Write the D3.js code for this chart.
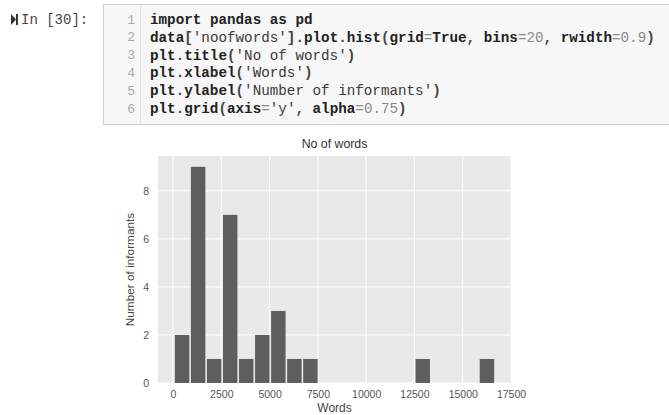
<!DOCTYPE html>
<html>
<head>
<meta charset="utf-8">
<script src="https://cdn.jsdelivr.net/npm/d3@7"></script>
<style>
  html, body { margin: 0; padding: 0; background: #fff; }
  svg { display: block; }
</style>
</head>
<body>
<svg id="chart" width="669" height="415"></svg>
<script>
// ---- data ----
const codeLines = [
  "import pandas as pd",
  "data['noofwords'].plot.hist(grid=True, bins=20, rwidth=0.9)",
  "plt.title('No of words')",
  "plt.xlabel('Words')",
  "plt.ylabel('Number of informants')",
  "plt.grid(axis='y', alpha=0.75)"
];
const promptText = "In [30]:";
const chartTitle = "No of words";
const xLabel = "Words";
const yLabel = "Number of informants";
const binCounts = [2, 9, 1, 7, 1, 2, 3, 1, 1, 0, 0, 0, 0, 0, 0, 1, 0, 0, 0, 1];
const dataMin = 54;
const dataMax = 16669;
const rwidth = 0.9;
const xTicks = [0, 2500, 5000, 7500, 10000, 12500, 15000, 17500];
const yTicks = [0, 2, 4, 6, 8];

// ---- layout ----
const svg = d3.select("#chart");
const mono = "'Liberation Mono', 'DejaVu Sans Mono', monospace";
const sans = "'Liberation Sans', Arial, sans-serif";

// code cell
svg.append("rect").attr("x", 103.5).attr("y", 4.5).attr("width", 580).attr("height", 120)
  .attr("fill", "#f7f7f7").attr("stroke", "#cfcfcf");
svg.append("line").attr("x1", 140.5).attr("x2", 140.5).attr("y1", 5).attr("y2", 124)
  .attr("stroke", "#e2e2e2");

// run icon + prompt
svg.append("path").attr("d", "M11,14 L16,19.5 L11,25 Z").attr("fill", "#333");
svg.append("rect").attr("x", 16).attr("y", 14).attr("width", 2).attr("height", 11).attr("fill", "#333");
svg.append("text").attr("x", 21).attr("y", 20).attr("dominant-baseline", "central")
  .attr("font-family", mono).attr("font-size", 14).attr("fill", "#444").text(promptText);

const lineY = d3.scaleLinear().domain([0, 5]).range([20, 109]);
const codeG = svg.append("g");
codeLines.forEach((ln, i) => {
  codeG.append("text").attr("x", 135).attr("y", lineY(i)).attr("dominant-baseline", "central")
    .attr("text-anchor", "end").attr("font-family", mono).attr("font-size", 13)
    .attr("fill", "#aaa").text(i + 1);
  const t = codeG.append("text").attr("x", 150).attr("y", lineY(i)).attr("dominant-baseline", "central")
    .attr("font-family", mono).attr("font-size", 14.25).attr("xml:space", "preserve");
  // simple tokenizer: strings, numbers, operators, words
  const re = /('[^']*')|(\b\d+(?:\.\d+)?\b)|([=()\[\].,])|(\s+)|([A-Za-z_]+)/g;
  let m;
  while ((m = re.exec(ln)) !== null) {
    const ts = t.append("tspan").text(m[0]);
    if (m[1]) ts.attr("fill", "#3a3a3a").attr("font-weight", "normal");
    else if (m[2]) ts.attr("fill", "#8a8a8a").attr("font-weight", "normal");
    else if (m[3]) ts.attr("fill", m[3] === "=" ? "#8a8a8a" : "#444").attr("font-weight", m[3] === "=" ? "normal" : "bold");
    else ts.attr("fill", "#222").attr("font-weight", "bold");
  }
});

// histogram
const R = dataMax - dataMin;
const x = d3.scaleLinear().domain([dataMin - 0.05 * R, dataMax + 0.05 * R]).range([158, 511]);
const yMax = d3.max(binCounts) * 1.05;
const y = d3.scaleLinear().domain([0, yMax]).range([383, 156]);
const binW = R / binCounts.length;
const bins = binCounts.map((c, i) => ({ x0: dataMin + i * binW, count: c }));

const plot = svg.append("g");
plot.append("rect").attr("x", x.range()[0]).attr("y", y.range()[1])
  .attr("width", x.range()[1] - x.range()[0]).attr("height", y.range()[0] - y.range()[1])
  .attr("fill", "#e9e9e9");

// grid
plot.selectAll("line.vg").data(xTicks).join("line").attr("class", "vg")
  .attr("x1", d => x(d)).attr("x2", d => x(d)).attr("y1", y.range()[1]).attr("y2", y.range()[0])
  .attr("stroke", "#fff").attr("stroke-width", 1);
plot.selectAll("line.hg").data(yTicks).join("line").attr("class", "hg")
  .attr("x1", x.range()[0]).attr("x2", x.range()[1]).attr("y1", d => y(d)).attr("y2", d => y(d))
  .attr("stroke", "#fff").attr("stroke-width", 1);

// bars
plot.selectAll("rect.bar").data(bins.filter(b => b.count > 0)).join("rect").attr("class", "bar")
  .attr("x", d => x(d.x0 + binW * (1 - rwidth) / 2))
  .attr("width", d => x(d.x0 + binW * (1 + rwidth) / 2) - x(d.x0 + binW * (1 - rwidth) / 2))
  .attr("y", d => y(d.count)).attr("height", d => y(0) - y(d.count))
  .attr("fill", "#5e5e5e");

// axes (labels only, no tick marks)
const xAxis = d3.axisBottom(x).tickValues(xTicks).tickSize(0).tickPadding(8).tickFormat(d3.format("d"));
const gx = svg.append("g").attr("transform", `translate(0,${y.range()[0]})`).call(xAxis);
gx.select(".domain").remove();
gx.selectAll("text").attr("font-family", sans).attr("font-size", 10.5).attr("fill", "#555");

const yAxis = d3.axisLeft(y).tickValues(yTicks).tickSize(0).tickPadding(9).tickFormat(d3.format("d"));
const gy = svg.append("g").attr("transform", `translate(${x.range()[0]},0)`).call(yAxis);
gy.select(".domain").remove();
gy.selectAll("text").attr("font-family", sans).attr("font-size", 10.5).attr("fill", "#555");

// titles
svg.append("text").attr("x", (x.range()[0] + x.range()[1]) / 2).attr("y", 144)
  .attr("text-anchor", "middle").attr("dominant-baseline", "central")
  .attr("font-family", sans).attr("font-size", 12.3).attr("fill", "#333").text(chartTitle);
svg.append("text").attr("x", (x.range()[0] + x.range()[1]) / 2).attr("y", 408)
  .attr("text-anchor", "middle").attr("dominant-baseline", "central")
  .attr("font-family", sans).attr("font-size", 12).attr("fill", "#444").text(xLabel);
svg.append("text").attr("transform", `translate(130,${(y.range()[0] + y.range()[1]) / 2}) rotate(-90)`)
  .attr("text-anchor", "middle").attr("dominant-baseline", "central")
  .attr("font-family", sans).attr("font-size", 11.8).attr("fill", "#444").text(yLabel);
</script>
</body>
</html>
